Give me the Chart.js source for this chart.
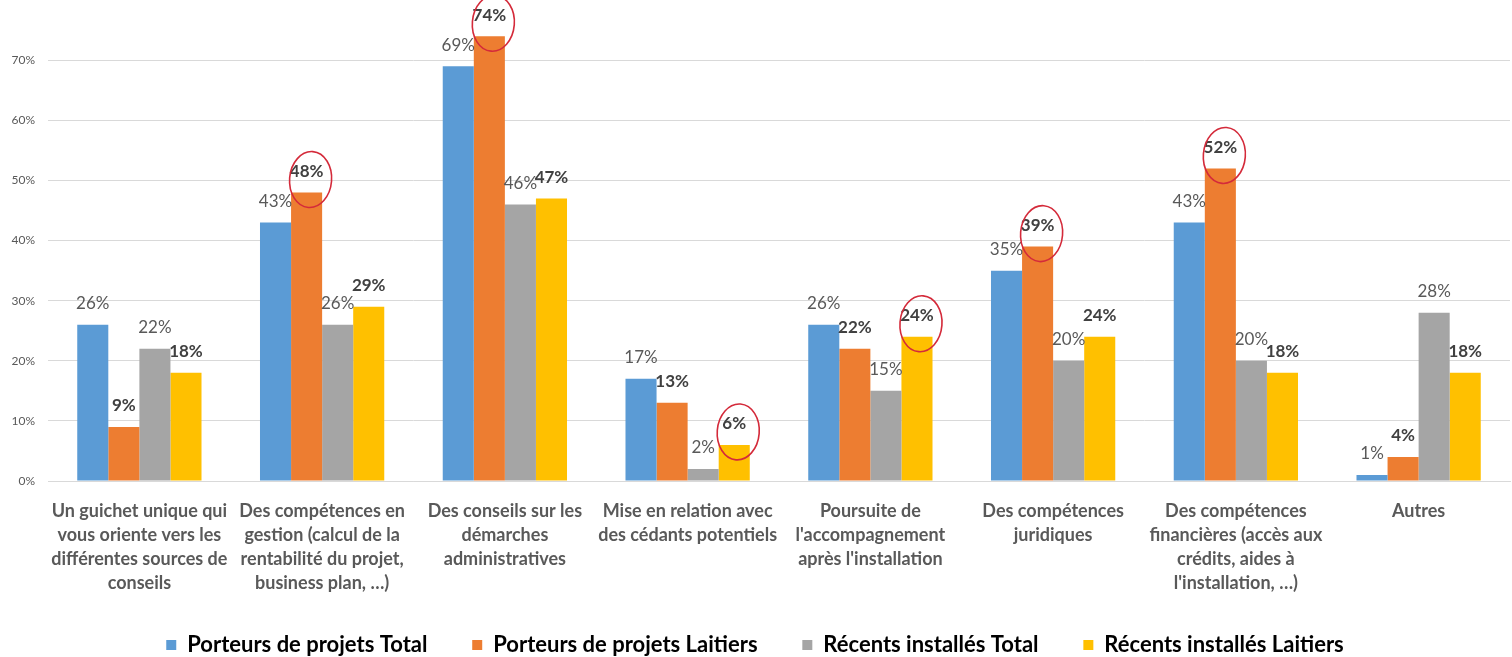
<!DOCTYPE html>
<html lang="fr">
<head>
    <meta charset="UTF-8">
    <title>Besoins d'accompagnement</title>
    <script src="https://cdn.jsdelivr.net/npm/chart.js"></script>
    <style>
        body { margin: 0; background: #fff; }
        #view { width: 1512px; height: 657px; overflow: hidden; position: relative; }
        /* the source picture is cropped just above the 80% line */
        #wrap { width: 1512px; height: 686px; position: absolute; top: -20px; left: 0; }
    </style>
</head>
<body>
    <div id="view"><div id="wrap"><canvas id="graph"></canvas></div></div>

    <script>
        // Categories (multi-line labels as on the original)
        const categories = [
            ["Un guichet unique qui", "vous oriente vers les", "différentes sources de", "conseils"],
            ["Des compétences en", "gestion (calcul de la", "rentabilité du projet,", "business plan, …)"],
            ["Des conseils sur les", "démarches", "administratives"],
            ["Mise en relation avec", "des cédants potentiels"],
            ["Poursuite de", "l'accompagnement", "après l'installation"],
            ["Des compétences", "juridiques"],
            ["Des compétences", "financières (accès aux", "crédits, aides à", "l'installation, …)"],
            ["Autres"]
        ];

        const seriesNames = [
            "Porteurs de projets Total",
            "Porteurs de projets Laitiers",
            "Récents installés Total",
            "Récents installés Laitiers"
        ];

        const porteursTotal    = [26, 43, 69, 17, 26, 35, 43, 1];
        const porteursLaitiers = [9, 48, 74, 13, 22, 39, 52, 4];
        const recentsTotal     = [22, 26, 46, 2, 15, 20, 20, 28];
        const recentsLaitiers  = [18, 29, 47, 6, 24, 24, 18, 18];

        const yTicks = [0, 10, 20, 30, 40, 50, 60, 70];

        // values circled in red by hand on the source: [dataset, category]
        const circled = [[1, 1], [1, 2], [3, 3], [3, 4], [1, 5], [1, 6]];

        const colors = ["#5B9BD5", "#ED7D31", "#A5A5A5", "#FFC000"];
        const boldLabels = [false, true, false, true];
        const FONT = "Lato, 'Open Sans', sans-serif";

        // value labels above each bar
        const valueLabels = {
            id: "valueLabels",
            afterDatasetsDraw(chart) {
                const ctx = chart.ctx;
                ctx.save();
                ctx.textAlign = "center";
                ctx.textBaseline = "middle";
                chart.data.datasets.forEach((ds, di) => {
                    const meta = chart.getDatasetMeta(di);
                    ctx.font = (boldLabels[di] ? "bold " : "") + "17px " + FONT;
                    ctx.fillStyle = boldLabels[di] ? "#404040" : "#595959";
                    meta.data.forEach((bar, i) => {
                        ctx.fillText(ds.data[i] + "%", bar.x, bar.y - 21);
                    });
                });
                ctx.restore();
            }
        };

        // red hand-drawn circles
        const redCircles = {
            id: "redCircles",
            afterDraw(chart) {
                const ctx = chart.ctx;
                ctx.save();
                ctx.strokeStyle = "#D42A3A";
                ctx.lineWidth = 1.6;
                circled.forEach(([di, i]) => {
                    const bar = chart.getDatasetMeta(di).data[i];
                    ctx.beginPath();
                    ctx.ellipse(bar.x + 4, bar.y - 13, 21, 28, 0.08, 0, Math.PI * 2);
                    ctx.stroke();
                });
                ctx.restore();
            }
        };

        const ctx = document.getElementById("graph").getContext("2d");
        new Chart(ctx, {
            type: "bar",
            data: {
                labels: categories,
                datasets: [porteursTotal, porteursLaitiers, recentsTotal, recentsLaitiers].map((d, k) => ({
                    label: seriesNames[k],
                    data: d,
                    backgroundColor: colors[k],
                    categoryPercentage: 0.68,
                    barPercentage: 1.0
                }))
            },
            options: {
                responsive: true,
                maintainAspectRatio: false,
                animation: false,
                layout: { padding: { top: 0, right: 2, left: 0, bottom: 0 } },
                plugins: {
                    tooltip: { enabled: false },
                    legend: {
                        position: "bottom",
                        labels: {
                            boxWidth: 10,
                            boxHeight: 10,
                            padding: 2,
                            color: "#595959",
                            font: { family: FONT, size: 22, weight: "bold" },
                            generateLabels(chart) {
                                return chart.data.datasets.map((ds, k) => ({
                                    text: ds.label + (k < 3 ? "        " : ""),
                                    fillStyle: ds.backgroundColor,
                                    strokeStyle: ds.backgroundColor,
                                    lineWidth: 0,
                                    datasetIndex: k
                                }));
                            }
                        }
                    }
                },
                scales: {
                    x: {
                        grid: { display: false },
                        border: { display: true, color: "#D9D9D9" },
                        afterFit(axis) { axis.height = 151; },
                        ticks: {
                            autoSkip: false,
                            maxRotation: 0,
                            padding: 10,
                            color: "#595959",
                            font: { family: FONT, size: 18, weight: "bold", lineHeight: 1.333 }
                        }
                    },
                    y: {
                        min: 0,
                        max: 80,
                        afterBuildTicks(axis) {
                            axis.ticks = yTicks.map(v => ({ value: v }));
                        },
                        afterFit(axis) { axis.width = 48; },
                        grid: { color: "#D9D9D9", drawTicks: false },
                        border: { display: false },
                        ticks: {
                            padding: 13,
                            color: "#595959",
                            font: { family: FONT, size: 12 },
                            callback: v => v + "%"
                        }
                    }
                }
            },
            plugins: [valueLabels, redCircles]
        });
    </script>
</body>
</html>
